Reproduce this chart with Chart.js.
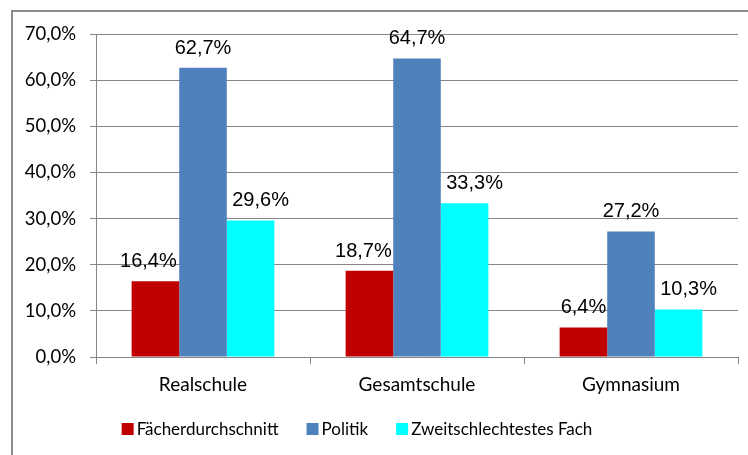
<!DOCTYPE html>
<html lang="de">
<head>
<meta charset="utf-8">
<title>Schulformen</title>
<script src="https://cdn.jsdelivr.net/npm/chart.js@4.4.1/dist/chart.umd.min.js"></script>
<style>
    html, body { margin: 0; padding: 0; background: #fff; overflow: hidden; }
    #wrap { position: relative; width: 748px; height: 455px; }
</style>
</head>
<body>
<div id="wrap"><canvas id="grafico" width="748" height="455"></canvas></div>
<script>
// Daten
const schulformen = ["Realschule", "Gesamtschule", "Gymnasium"];
const faecherdurchschnitt = [16.4, 18.7, 6.4];
const politik = [62.7, 64.7, 27.2];
const zweitschlechtestes = [29.6, 33.3, 10.3];
const serien = ["Fächerdurchschnitt", "Politik", "Zweitschlechtestes Fach"];

const farben = ["#C00000", "#4F81BD", "#00FFFF"];
const gitter = "#868686";

function prozent(v) {
    return v.toFixed(1).replace(".", ",") + "%";
}

// Rahmen um das Diagramm
const rahmen = {
    id: "rahmen",
    beforeDraw(chart) {
        const ctx = chart.ctx;
        ctx.save();
        ctx.strokeStyle = "#8c8c8c";
        ctx.lineWidth = 2;
        ctx.strokeRect(12, 11, 800, 500);
        ctx.restore();
    }
};

// Beschriftung über den Balken (leicht verschoben wie im Original)
const verschiebung = [[-7, -6, 0], [0, 0, 0], [10, 10, 10]];
const beschriftung = {
    id: "beschriftung",
    afterDatasetsDraw(chart) {
        const ctx = chart.ctx;
        ctx.save();
        ctx.font = "20px 'Liberation Sans', Arial, sans-serif";
        ctx.fillStyle = "#000";
        ctx.textAlign = "center";
        ctx.textBaseline = "alphabetic";
        chart.data.datasets.forEach((ds, i) => {
            chart.getDatasetMeta(i).data.forEach((bar, j) => {
                ctx.fillText(prozent(ds.data[j]), bar.x + verschiebung[i][j], bar.y - 14);
            });
        });
        ctx.restore();
    }
};

// Legende unten
const legende = {
    id: "legende",
    afterDraw(chart) {
        const ctx = chart.ctx;
        const box = 12, abstand = 3, luecke = 28;
        ctx.save();
        ctx.font = "17px Lato, sans-serif";
        ctx.textBaseline = "alphabetic";
        ctx.textAlign = "left";
        const breiten = chart.data.datasets.map(ds => ctx.measureText(ds.label).width);
        const gesamt = breiten.reduce((s, b) => s + box + abstand + b, 0) + luecke * (breiten.length - 1);
        let x = 357 - gesamt / 2;
        const y = 423;
        chart.data.datasets.forEach((ds, i) => {
            ctx.fillStyle = ds.backgroundColor;
            ctx.fillRect(x, y, box, box);
            ctx.fillStyle = "#000";
            ctx.fillText(ds.label, x + box + abstand, y + 12);
            x += box + abstand + breiten[i] + luecke;
        });
        ctx.restore();
    }
};

const werte = [faecherdurchschnitt, politik, zweitschlechtestes];

new Chart(document.getElementById("grafico"), {
    type: "bar",
    data: {
        labels: schulformen,
        datasets: serien.map((name, i) => ({
            label: name,
            data: werte[i],
            backgroundColor: farben[i],
            borderWidth: 0,
            categoryPercentage: 0.667,
            barPercentage: 1
        }))
    },
    options: {
        responsive: false,
        animation: false,
        devicePixelRatio: 1,
        layout: { padding: { top: 34, right: 10, bottom: 58, left: 0 } },
        scales: {
            x: {
                grid: { display: true, drawOnChartArea: false, drawTicks: true, tickLength: 7, offset: true, color: gitter },
                border: { color: gitter },
                ticks: { color: "#000", font: { family: "Lato", size: 19 }, padding: 9 },
                afterFit(scale) { scale.height = 40; }
            },
            y: {
                min: 0,
                max: 70,
                grid: { color: gitter, tickLength: 6 },
                border: { color: gitter },
                ticks: { stepSize: 10, color: "#000", font: { family: "Lato", size: 18.5 }, padding: 14, callback: v => prozent(v) },
                afterFit(scale) { scale.width = 96; }
            }
        },
        plugins: {
            legend: { display: false },
            tooltip: { enabled: false }
        }
    },
    plugins: [rahmen, beschriftung, legende]
});
</script>
</body>
</html>
